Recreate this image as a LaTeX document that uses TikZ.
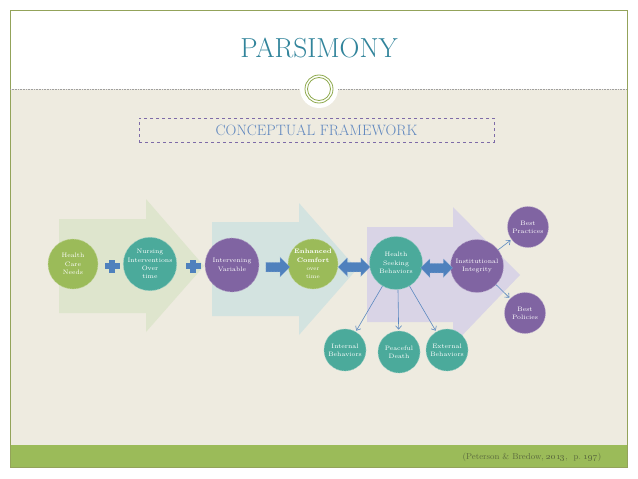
\documentclass[tikz,border=0pt]{standalone}
\usetikzlibrary{shapes.arrows,arrows.meta}
\definecolor{bgbeige}{HTML}{EEEBE0}
\definecolor{frameol}{HTML}{93A35A}
\definecolor{titleteal}{HTML}{31849B}
\definecolor{cfblue}{HTML}{5E86BE}
\definecolor{cfbox}{HTML}{7E6BA8}
\definecolor{cgreen}{HTML}{9BBB59}
\definecolor{cteal}{HTML}{4BAA9B}
\definecolor{cpurple}{HTML}{8064A2}
\definecolor{ablue}{HTML}{4F81BD}
\definecolor{lineblue}{HTML}{5A88BF}
\definecolor{bgarrA}{HTML}{DEE5CD}
\definecolor{bgarrB}{HTML}{D3E3E0}
\definecolor{bgarrC}{HTML}{D9D4E6}
\definecolor{citec}{HTML}{5C6B3E}
\definecolor{ringc}{HTML}{8FAA4E}
\begin{document}
\begin{tikzpicture}[x=1pt,y=-1pt,
  bub/.style={circle, fill=#1, draw=#1!60!white, densely dotted, line width=0.7pt,
    text=white, align=center, inner sep=0pt, font=\fontsize{6.4}{8.3}\selectfont},
  conn/.style={draw=lineblue, line width=0.6pt, -{Straight Barb[length=3.5pt,width=6pt]}, shorten >=1pt},
  sarrow/.style={single arrow, fill=ablue, draw=ablue!60!white, densely dotted, line width=0.5pt,
    inner xsep=0pt, inner ysep=4.5pt, single arrow head extend=5pt, minimum height=24pt},
  darrow/.style={double arrow, fill=ablue, draw=ablue!60!white, densely dotted, line width=0.5pt,
    inner xsep=0pt, inner ysep=4.5pt, double arrow head extend=4.5pt, minimum height=32pt},
  plusbar/.style={fill=ablue}
]
\useasboundingbox (0,0) rectangle (638,479);
\fill[white] (0,0) rectangle (638,479);
\fill[bgbeige] (10,89) rectangle (627,445);
\fill[cgreen] (10,445) rectangle (627,467);
\draw[frameol, line width=0.8pt] (10,10) rectangle (627,467);
\draw[gray!75, densely dotted, line width=0.6pt] (10,89) -- (300,89) (338,89) -- (627,89);
\fill[white] (319,89) circle[radius=19pt];
\draw[ringc, line width=0.8pt] (319,89) circle[radius=14pt] (319,89) circle[radius=11.5pt];

\node[text=titleteal, font=\fontsize{27.5}{30}\selectfont] (title) at (319,48) {PARSIMONY};
\node[draw=cfbox, dashed, line width=0.5pt, minimum width=355pt, minimum height=24pt,
  text=cfblue, font=\fontsize{15}{18}\selectfont] (cf) at (316.5,130) {CONCEPTUAL FRAMEWORK};
\node[text=citec, font=\fontsize{8.6}{10}\selectfont] (cite) at (532,457)
  {(Peterson \& Bredow, \oldstylenums{2013},\ \ p.\ \oldstylenums{197})};

% background arrows
\fill[bgarrA] (59,219) -- (146,219) -- (146,199) -- (204,266) -- (146,332) -- (146,313) -- (59,313) -- cycle;
\fill[bgarrB] (212,222) -- (299,222) -- (299,203) -- (357,269) -- (299,335) -- (299,316) -- (212,316) -- cycle;
\fill[bgarrC] (367,227) -- (453,227) -- (453,207) -- (520,275) -- (453,345) -- (453,322) -- (367,322) -- cycle;

% circles
\node[bub=cgreen, minimum size=50pt] (hcn) at (73,264) {Health\\Care\\Needs};
\node[bub=cteal, minimum size=52pt] (ni) at (150,264) {Nursing\\Interventions\\Over\\time};
\node[bub=cpurple, minimum size=54pt] (iv) at (232,265) {Intervening\\Variable};
\node[bub=cgreen, minimum size=50pt] (ec) at (313,264)
  {\textbf{Enhanced}\\\textbf{Comfort}\\{\fontsize{5.8}{7}\selectfont over}\\{\fontsize{5.8}{7}\selectfont time}};
\node[bub=cteal, minimum size=53pt] (hsb) at (396,263) {Health\\Seeking\\Behaviors};
\node[bub=cpurple, minimum size=53pt] (ii) at (477,266) {Institutional\\Integrity};
\node[bub=cpurple, minimum size=41pt] (bpr) at (528,227) {Best\\Practices};
\node[bub=cpurple, minimum size=41pt] (bpo) at (525,313) {Best\\Policies};
\node[bub=cteal, minimum size=42pt] (ib) at (345,350) {Internal\\Behaviors};
\node[bub=cteal, minimum size=42pt] (pd) at (399,352) {Peaceful\\Death};
\node[bub=cteal, minimum size=42pt] (eb) at (447,350) {External\\Behaviors};

% plus signs
\coordinate (plusA) at (112,266);
\coordinate (plusB) at (193,266);
\foreach \p in {plusA,plusB}{
  \fill[plusbar] ([xshift=-7.5pt,yshift=-2.8pt]\p) rectangle ([xshift=7.5pt,yshift=2.8pt]\p);
  \fill[plusbar] ([xshift=-2.8pt,yshift=-6.5pt]\p) rectangle ([xshift=2.8pt,yshift=6.5pt]\p);
}

% block arrows
\node[sarrow] (sa) at (275.5,267) {};
\node[darrow] (daA) at (354,267) {};
\node[darrow] (daB) at (436.5,268) {};

% connectors
\coordinate (hsbs) at ([xshift=2pt]hsb.south);
\draw[conn] (hsb) -- (ib);
\draw[conn] (hsbs) -- (pd);
\draw[conn] (hsb) -- (eb);
\draw[conn] (ii) -- (bpr);
\draw[conn] (ii) -- (bpo);
\end{tikzpicture}
\end{document}
